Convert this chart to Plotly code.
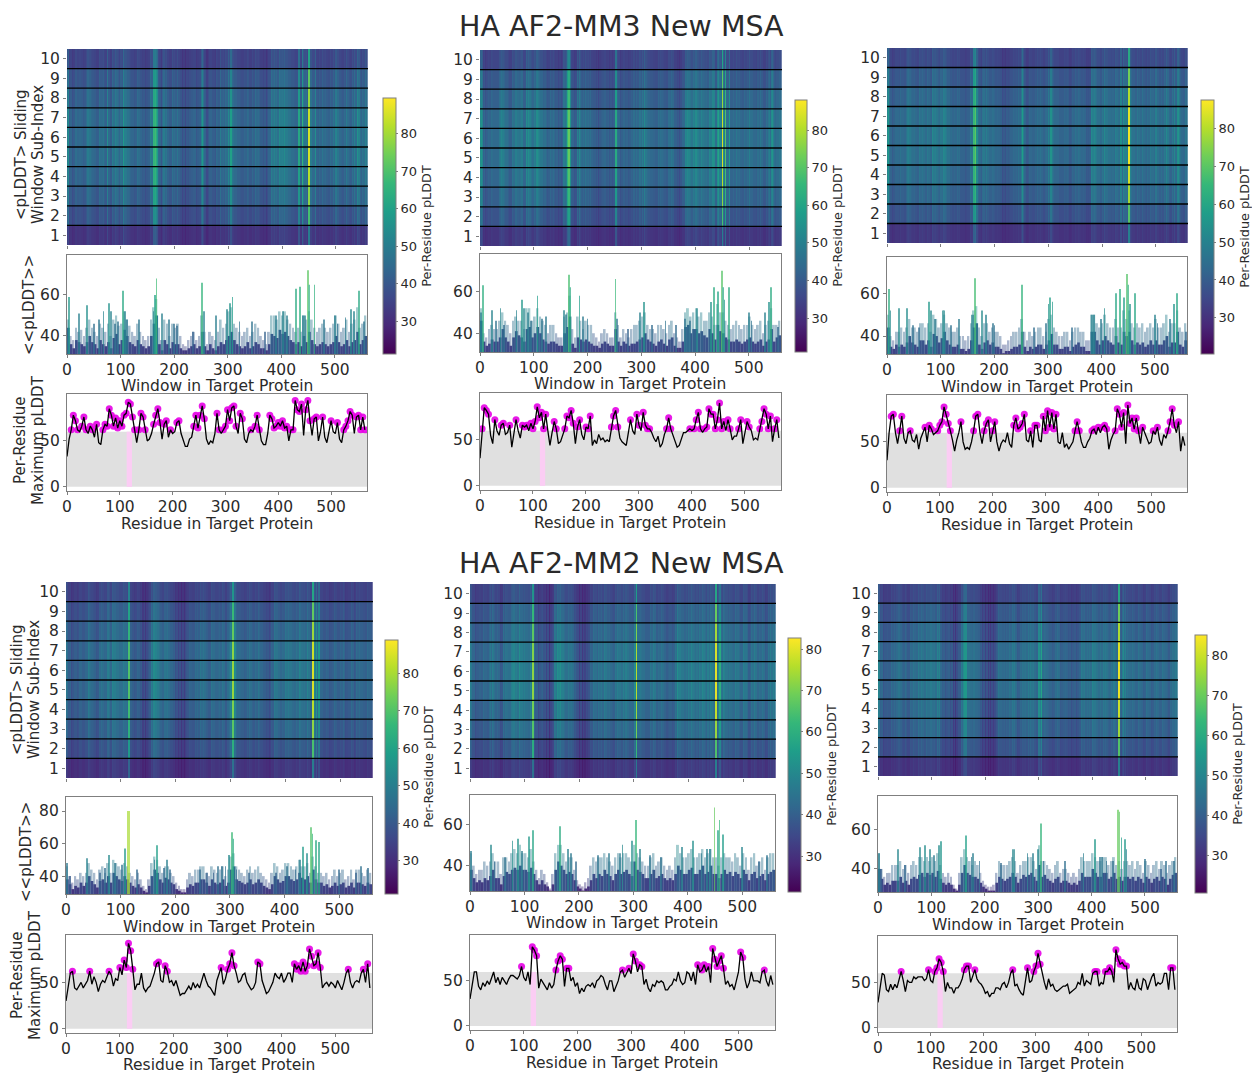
import plotly.graph_objects as go

W, H = 1252, 1074
TITLES = ["HA AF2-MM3 New MSA", "HA AF2-MM2 New MSA"]
TICKS = [0, 100, 200, 300, 400, 500]
SUB_INDEX = [1, 2, 3, 4, 5, 6, 7, 8, 9, 10]
THRESHOLD = 60
FOCUS_RESIDUE = 118

# Per-residue maximum pLDDT, read every 4th residue (0, 4, ... 564)
LINE_A = [33,52,62,78,72,62,60,66,76,62,58,66,62,54,68,48,46,62,68,66,85,78,66,75,64,
72,66,78,80,92,90,76,62,48,62,80,76,62,50,52,58,68,78,85,70,52,68,72,54,62,
58,60,70,72,58,50,44,44,52,54,66,78,64,78,88,74,52,46,50,48,58,80,62,58,62,
66,84,72,86,88,66,58,80,74,52,48,58,62,60,66,78,62,50,46,46,58,78,74,64,66,
70,66,72,64,66,50,62,62,94,84,82,90,56,84,94,72,56,74,76,50,60,76,54,48,60,
72,60,58,70,52,48,62,66,72,82,78,58,76,78,62,76,62]
LINE_B = [30,62,85,82,78,55,46,72,60,55,66,68,56,58,66,42,56,72,60,52,66,64,66,60,68,
62,70,86,74,80,62,78,60,44,58,70,62,46,48,54,62,76,74,82,68,46,64,72,56,50,
64,62,76,44,50,46,56,50,52,48,50,48,64,76,82,64,52,48,46,44,58,72,60,56,78,
66,60,80,66,62,62,58,52,48,54,42,46,56,62,74,62,56,48,42,44,52,58,58,60,62,
60,62,72,80,62,58,62,64,84,78,78,62,72,90,62,70,60,72,62,50,54,54,62,72,46,
58,70,64,60,50,52,50,62,70,84,78,62,76,48,62,72,52]
LINE_C = [30,60,78,80,60,48,62,78,54,48,60,62,52,50,58,42,54,60,66,50,68,64,58,60,62,
68,72,88,80,70,62,52,40,52,60,72,50,42,44,42,50,62,78,80,60,48,62,70,74,50,
62,72,50,40,48,52,50,60,48,44,68,76,64,66,70,80,52,50,62,44,68,68,52,50,78,
62,84,66,82,64,80,50,48,60,44,48,42,46,50,62,72,62,50,44,44,50,54,62,64,58,
66,60,66,68,64,42,52,58,62,86,80,66,82,48,90,70,76,64,76,62,48,66,60,52,48,
50,62,58,66,52,46,58,54,62,72,86,68,60,72,40,56,46]
LINE_D = [30,44,60,62,44,42,46,50,44,48,52,62,48,56,50,40,48,52,50,56,62,58,46,54,52,
66,58,74,66,92,84,64,42,48,48,60,44,40,44,46,52,60,70,72,52,50,68,62,50,52,
46,52,44,36,38,38,42,46,42,50,44,48,44,52,60,52,46,44,40,36,52,60,66,48,54,
64,70,82,68,60,50,52,58,60,50,46,42,44,50,72,70,52,44,38,40,46,50,60,56,54,
60,50,54,60,60,50,70,64,68,62,72,62,68,86,78,68,70,82,66,44,48,50,46,50,48,
44,52,46,42,50,60,64,50,44,50,52,50,60,64,50,70,44]
LINE_E = [30,46,60,60,44,40,48,44,50,46,52,60,48,54,46,54,50,46,52,56,56,54,52,56,66,
54,50,60,46,88,84,78,42,52,48,44,40,48,42,46,62,72,78,74,44,64,64,50,54,44,
48,36,42,38,44,46,44,48,42,50,52,56,54,46,40,50,50,38,44,50,60,62,54,60,64,
58,80,72,60,68,66,46,52,42,38,46,44,50,48,50,48,40,40,44,46,52,50,60,50,46,
48,60,58,50,60,46,68,60,62,68,60,66,48,86,74,66,72,78,64,46,50,44,46,40,50,
60,82,76,52,42,48,60,50,50,50,48,60,62,50,44,56,46]
LINE_F = [28,46,60,58,42,40,48,42,48,44,52,62,52,40,52,50,50,56,54,56,56,56,52,54,64,
52,50,62,66,76,72,62,40,50,44,44,38,44,44,48,54,64,68,68,50,56,64,54,50,48,
44,38,40,34,38,38,44,44,42,48,50,44,50,60,64,46,48,42,38,36,50,66,50,52,62,
68,82,70,60,50,42,54,46,48,42,40,42,44,46,46,48,38,40,42,44,50,48,60,46,52,
50,48,60,62,62,46,50,48,62,62,66,62,50,86,76,70,72,68,68,42,50,44,42,54,44,
42,54,52,42,50,56,60,46,50,48,50,60,60,42,66,66,42]

# Dense level of the window bars, read every 5th window (0, 5, ... 555)
BAR_A = [44,36,34,38,37,36,35,37,40,37,36,34,38,36,35,37,34,39,41,36,38,43,40,37,36,35,38,36,35,34,
35,40,46,50,36,33,38,36,34,37,36,36,34,33,33,34,35,36,34,35,42,35,33,36,34,33,35,37,36,38,
40,42,38,36,35,34,35,37,34,35,37,36,34,34,33,36,41,40,39,43,41,42,40,38,37,36,37,35,40,37,
42,38,36,35,36,37,36,35,36,37,40,37,35,36,38,35,37,38,42,36,38,40]
BAR_B = [46,36,34,35,37,36,36,38,42,38,36,34,38,41,39,38,36,42,43,38,40,43,40,37,36,35,36,36,35,34,
34,40,43,48,35,33,38,37,36,37,36,35,34,34,33,35,36,35,34,34,42,36,34,36,35,34,35,35,36,37,
38,40,37,36,35,34,36,37,35,34,37,38,34,33,33,36,43,44,40,42,42,40,41,39,38,42,40,37,44,41,
40,38,37,36,36,37,36,35,36,37,38,36,35,36,37,34,36,37,42,36,38,39]
BAR_C = [44,35,34,36,35,36,35,37,40,37,36,35,38,38,36,38,35,41,40,37,39,42,38,36,35,35,36,34,34,33,
34,38,44,46,36,34,37,38,36,37,35,35,34,32,33,33,34,35,35,36,42,35,33,35,34,35,36,36,34,36,
38,41,36,36,34,34,35,35,33,35,36,37,35,35,33,33,42,42,38,36,38,40,38,37,36,40,37,36,42,40,
42,38,36,37,36,37,35,36,38,36,38,36,36,38,40,35,37,37,42,36,35,38]
BAR_D = [38,35,32,34,33,36,34,36,40,37,35,33,37,38,36,40,36,42,40,38,37,40,38,36,34,33,35,33,31,30,
34,40,44,42,38,36,39,38,36,35,32,31,30,30,33,35,34,36,36,38,38,36,34,38,36,35,36,38,34,36,
44,46,38,37,36,35,36,38,35,36,38,36,34,33,32,35,40,38,36,37,40,40,38,37,38,42,39,38,40,36,
44,38,36,36,34,35,33,34,36,34,35,36,33,34,36,33,36,36,35,34,36,35]
BAR_E = [38,34,32,33,32,34,33,35,38,34,34,31,35,37,36,38,39,38,40,38,38,37,39,36,33,31,33,31,30,28,
31,38,42,40,38,36,37,36,33,30,29,28,29,30,33,36,34,36,35,38,36,35,33,36,38,36,37,38,36,35,
42,38,37,36,34,34,36,38,34,35,36,34,33,34,33,36,40,38,36,36,38,39,36,36,38,40,36,37,40,36,
36,34,36,38,36,37,35,37,36,34,38,36,33,36,37,34,35,36,33,36,37,38]
BAR_F = [40,35,32,33,32,34,34,34,36,33,34,32,35,36,35,37,38,36,38,37,38,36,39,35,33,32,33,32,30,29,
32,38,42,38,37,36,36,35,33,31,30,29,29,29,33,36,35,34,35,36,38,36,33,35,37,36,37,38,36,34,
42,36,37,35,34,33,35,36,33,34,34,33,32,33,32,34,38,36,36,36,40,38,36,36,38,38,35,36,38,35,
36,34,36,36,35,36,34,36,35,33,36,35,33,35,36,34,36,35,32,35,37,38]

# Pale upper envelope of the window bars, read every 5th window
ENV_A = [48,40,38,44,42,43,40,44,48,44,42,40,46,44,42,46,40,48,50,45,46,52,48,45,42,40,46,42,40,38,
40,48,54,58,44,38,48,46,40,46,44,46,40,36,35,38,40,42,38,40,50,42,36,42,40,38,42,48,44,46,
52,54,46,44,42,40,42,44,40,42,46,44,40,38,36,42,50,50,48,52,50,52,48,46,44,42,44,42,50,48,
52,48,44,42,44,46,44,42,44,46,50,46,42,44,48,42,46,48,54,44,46,50]
ENV_B = [52,40,38,42,44,42,42,46,50,46,44,40,46,48,46,46,42,52,52,46,48,52,48,46,44,40,44,44,40,38,
38,48,50,58,42,38,48,46,42,46,44,44,40,38,36,40,42,40,38,38,50,44,38,42,40,38,42,44,44,46,
48,50,44,42,42,40,44,44,42,40,44,46,40,38,36,42,50,52,48,50,52,48,50,46,46,50,48,44,54,50,
50,46,44,42,44,46,44,42,44,44,48,44,42,44,46,40,44,46,52,44,44,46]
ENV_C = [50,40,38,42,42,44,42,44,48,44,44,42,46,46,44,46,42,50,48,44,46,50,46,44,42,42,44,40,40,38,
40,46,52,54,44,40,46,46,42,44,42,42,40,36,36,38,40,42,42,44,48,42,38,42,40,42,44,44,40,42,
48,50,44,42,40,40,42,42,38,42,44,44,42,42,38,38,50,50,46,44,46,50,46,44,44,48,44,44,52,48,
52,46,44,46,44,46,42,44,46,44,48,44,44,46,50,42,46,46,52,44,42,46]
ENV_D = [46,40,36,40,38,42,40,42,48,44,42,38,44,46,42,48,42,50,48,46,44,48,46,42,40,38,42,38,34,32,
38,48,52,50,46,42,46,46,42,40,36,34,32,32,38,42,40,44,44,46,46,42,40,46,44,42,44,46,40,44,
52,54,46,44,42,40,44,46,42,44,46,42,40,38,36,42,48,46,42,44,48,48,46,44,46,50,46,46,48,42,
52,46,42,42,40,42,38,40,44,40,42,44,38,40,44,38,44,44,42,40,44,42]
ENV_E = [46,40,36,38,38,42,40,42,46,42,42,36,44,44,42,46,48,46,50,46,46,44,48,42,38,34,38,36,32,29,
36,46,50,50,46,42,44,44,38,33,31,30,32,34,40,44,42,44,44,46,44,42,40,44,46,44,46,46,44,42,
50,46,44,42,40,40,44,46,40,42,44,40,38,40,38,44,50,46,44,44,46,48,44,44,46,48,44,46,48,44,
44,40,44,46,44,44,42,46,44,40,46,44,38,44,46,40,42,44,38,44,46,46]
ENV_F = [48,40,36,38,38,42,42,42,44,40,42,38,42,44,42,46,46,44,46,44,46,44,48,42,38,36,38,36,32,30,
38,46,50,46,44,42,44,42,38,34,32,31,31,32,38,44,42,42,42,44,46,44,38,42,44,44,46,46,44,40,
52,44,44,42,40,38,42,44,38,40,40,38,36,38,36,40,46,44,44,44,48,46,44,44,46,46,42,44,46,42,
44,40,44,44,42,44,40,44,42,38,44,42,38,42,44,40,44,42,38,42,44,46]

# Narrow peaks rising above the dense level: window numbers and heights
SPIKE_X_A = [3,4,22,38,50,60,68,78,82,90,95,105,108,112,135,163,165,167,178,190,200,205,235,252,255,278,298,305,309,322,345,370,390,403,410,428,435,441,445,450,452,462,480,500,505,520,530,535,545,555]
SPIKE_Y_A = [59,57,51,55,46,48,52,56,52,46,47,62,52,48,48,52,60,68,51,48,46,45,42,66,52,50,53,56,59,47,47,42,50,52,50,63,64,50,50,72,65,65,48,50,46,49,53,52,62,47]
SPIKE_X_B = [2,5,22,30,38,45,68,78,82,90,95,107,115,122,157,160,165,167,185,192,200,252,255,275,298,305,320,345,365,382,390,403,430,435,442,450,452,455,463,500,505,530,537,542,555]
SPIKE_Y_B = [50,63,51,46,52,44,51,56,52,50,46,58,47,48,51,49,68,62,58,48,47,66,47,42,50,55,44,46,44,47,46,52,55,62,60,70,62,56,62,50,46,50,55,62,43]
SPIKE_X_C = [3,5,22,38,48,60,78,82,90,105,107,120,135,158,163,165,178,185,198,200,252,275,297,303,305,309,345,382,386,400,406,428,435,443,448,450,453,463,500,505,528,535,542,558]
SPIKE_Y_C = [62,52,53,53,45,44,56,52,48,52,52,45,48,50,50,67,52,50,46,45,64,44,46,55,58,56,44,50,50,48,53,60,62,58,69,64,55,60,50,46,48,55,60,42]
SPIKE_X_D = [2,8,38,62,72,78,90,103,108,114,115,130,162,166,180,185,190,245,258,270,278,285,292,298,303,305,312,335,385,405,420,428,434,441,449,451,457,463,500,530,540,553]
SPIKE_Y_D = [48,40,51,42,45,53,48,47,57,80,80,44,50,59,45,50,44,44,42,42,46,46,46,53,67,63,44,42,42,46,44,50,58,54,70,66,62,61,44,42,46,45]
SPIKE_X_E = [2,38,45,65,78,88,95,108,116,165,180,185,195,235,255,275,280,298,305,312,330,350,390,410,425,435,440,449,455,458,464,500,530,545]
SPIKE_Y_E = [47,50,42,44,52,53,47,54,57,59,48,46,42,45,46,46,50,52,62,48,45,44,49,52,46,48,48,68,57,62,55,49,42,45]
SPIKE_X_F = [2,5,38,50,78,88,98,105,115,118,165,175,178,190,230,252,255,280,290,300,305,310,350,385,407,415,420,428,440,449,451,456,462,465,500,530,540,555]
SPIKE_Y_F = [48,40,50,42,51,52,50,47,52,54,57,46,48,44,43,50,50,48,48,50,63,44,44,48,55,46,46,44,44,70,69,56,55,50,45,40,44,44]

# Bright stripes of the heat maps: window numbers and colour value in the brightest row
STRIPE_X_A = [3,75,105,162,165,252,305,432,438,450,462,543]
STRIPE_Y_A = [55,55,58,66,68,58,60,62,66,85,55,52]
STRIPE_X_B = [3,78,107,162,165,252,305,432,442,450,455,463,542]
STRIPE_Y_B = [56,50,52,66,72,62,52,55,60,84,70,58,52]
STRIPE_X_C = [3,162,165,252,305,435,450,542]
STRIPE_Y_C = [54,66,70,58,55,54,86,50]
STRIPE_X_D = [115,165,305,450,457,462]
STRIPE_Y_D = [70,52,78,85,58,58]
STRIPE_X_E = [115,165,305,450,458]
STRIPE_Y_E = [72,50,76,80,60]
STRIPE_X_F = [115,162,165,305,450,458]
STRIPE_Y_F = [50,55,55,58,83,52]

# Relative brightness of sub-index rows 1..10
ROW_LEVEL = [0.45, 0.75, 0.88, 0.95, 1.0, 1.0, 0.98, 0.9, 0.8, 0.62]

LINES = [LINE_A, LINE_B, LINE_C, LINE_D, LINE_E, LINE_F]
BARS = [BAR_A, BAR_B, BAR_C, BAR_D, BAR_E, BAR_F]
ENVS = [ENV_A, ENV_B, ENV_C, ENV_D, ENV_E, ENV_F]
SPIKES = [(SPIKE_X_A, SPIKE_Y_A), (SPIKE_X_B, SPIKE_Y_B), (SPIKE_X_C, SPIKE_Y_C),
          (SPIKE_X_D, SPIKE_Y_D), (SPIKE_X_E, SPIKE_Y_E), (SPIKE_X_F, SPIKE_Y_F)]
STRIPES = [(STRIPE_X_A, STRIPE_Y_A), (STRIPE_X_B, STRIPE_Y_B), (STRIPE_X_C, STRIPE_Y_C),
           (STRIPE_X_D, STRIPE_Y_D), (STRIPE_X_E, STRIPE_Y_E), (STRIPE_X_F, STRIPE_Y_F)]

# Layout: pixel boxes (x0, x1, y0, y1)
PANELS = [
 dict(heat=(67,368,49,245), bar=(67,367,255,354), line=(67,367,394,491), cb=(383,396,98,354),
      bar_r=(31.2,79.5), line_r=(-4.5,101), c=(21.2,89.6), tx=217, t1=386, t2=524),
 dict(heat=(480,782,50,246), bar=(480,781,254,352), line=(480,781,393,490), cb=(795,807,100,352),
      bar_r=(31,78), line_r=(-4.5,101), c=(21,88), tx=630, t1=384, t2=523),
 dict(heat=(887,1188,48,243), bar=(887,1187,257,354), line=(887,1187,395,492), cb=(1201,1214,100,354),
      bar_r=(31.6,77), line_r=(-4.5,101), c=(20.5,87.4), tx=1037, t1=387, t2=525),
 dict(heat=(66,373,582,778), bar=(66,372,797,894), line=(66,372,935,1033), cb=(385,398,640,894),
      bar_r=(29,88.6), line_r=(-4.5,101), c=(21.2,88.8), tx=219, t1=927, t2=1065),
 dict(heat=(470,776,584,778), bar=(470,775,795,891), line=(470,775,935,1030), cb=(788,801,638,892),
      bar_r=(27.8,74), line_r=(-4.5,101), c=(21.3,82.7), tx=622, t1=923, t2=1063),
 dict(heat=(878,1178,584,776), bar=(878,1177,796,892), line=(878,1177,936,1032), cb=(1195,1207,635,893),
      bar_r=(28.3,77), line_r=(-4.5,101), c=(20.7,85), tx=1028, t1=925, t2=1064),
]

FONT = "DejaVu Sans"
INK = "#2a2a2a"
FRAME = "#7f7f7f"
TICK_SIZE = 15.5

fig = go.Figure()
layout = {}
ann = []
shapes = []
axis_n = 0


def dom_x(b):
    return [b[0] / W, b[1] / W]


def dom_y(b):
    return [1 - b[3] / H, 1 - b[2] / H]


def text(x, y, s, size=15.5, angle=0):
    ann.append(dict(x=x / W, y=1 - y / H, xref="paper", yref="paper", text=s, showarrow=False,
                    textangle=angle, font=dict(size=size, family=FONT, color=INK),
                    xanchor="center", yanchor="middle"))


def axes(box, xr, yr, xlabels=True, frame=True, yticks=None):
    global axis_n
    axis_n += 1
    n = "" if axis_n == 1 else str(axis_n)
    layout["xaxis" + n] = dict(domain=dom_x(box), range=list(xr), anchor="y" + n, tickvals=TICKS,
                               showticklabels=xlabels, ticks="outside", ticklen=3, tickcolor=FRAME,
                               showgrid=False, zeroline=False, showline=frame, mirror=frame,
                               linecolor=FRAME, linewidth=1.2, ticklabelstandoff=-2,
                               tickfont=dict(size=TICK_SIZE, family=FONT, color=INK))
    layout["yaxis" + n] = dict(domain=dom_y(box), range=list(yr), anchor="x" + n, tickvals=yticks,
                               ticks="outside", ticklen=3, tickcolor=FRAME,
                               showgrid=False, zeroline=False, showline=frame, mirror=frame,
                               linecolor=FRAME, linewidth=1.2,
                               tickfont=dict(size=TICK_SIZE, family=FONT, color=INK))
    return "x" + n, "y" + n


for i, p in enumerate(PANELS):
    ca = "coloraxis" + ("" if i == 0 else str(i + 1))
    cb = p["cb"]
    layout[ca] = dict(
        colorscale="Viridis", cmin=p["c"][0], cmax=p["c"][1],
        colorbar=dict(x=cb[0] / W, xanchor="left", xpad=0, thickness=cb[1] - cb[0], thicknessmode="pixels",
                      len=(cb[3] - cb[2]) / H, lenmode="fraction", y=1 - cb[3] / H, yanchor="bottom", ypad=0,
                      tickvals=[30, 40, 50, 60, 70, 80], ticks="outside", ticklen=2, tickcolor=FRAME,
                      tickfont=dict(size=13, family=FONT, color=INK), outlinecolor=FRAME, outlinewidth=1,
                      title=dict(text="Per-Residue pLDDT", side="right", font=dict(size=12.8, family=FONT, color=INK))))

    mass, env, (sx, sy), (hx, hy) = BARS[i], ENVS[i], SPIKES[i], STRIPES[i]

    # Heat map cells are estimated: the bar levels per window, lifted by peaks and stripes,
    # and dimmed per sub-index row by ROW_LEVEL
    profile = []
    for w in range(560):
        j = min(w // 5, len(mass) - 1)
        profile.append(env[j] + 2 if w % 5 < 2 else mass[j] + 8)
    for a, b in zip(sx, sy):
        profile[a] = max(profile[a], (profile[a] + b) / 2)
    for a, b in zip(hx, hy):
        for w in (a - 1, a, a + 1):
            if 0 <= w < 560:
                profile[w] = max(profile[w], b)
    z = [[p["c"][0] + (v - p["c"][0]) * lv for v in profile] for lv in ROW_LEVEL]
    xa, ya = axes(p["heat"], (0, 560), (0.5, 10.5), xlabels=False, frame=False, yticks=SUB_INDEX)
    fig.add_trace(go.Heatmap(z=z, x=list(range(560)), y=SUB_INDEX, coloraxis=ca, xaxis=xa, yaxis=ya, zsmooth=False))
    for r in SUB_INDEX[:-1]:
        shapes.append(dict(type="line", xref=xa, yref=ya, x0=0, x1=560, y0=r + 0.5, y1=r + 0.5,
                           line=dict(color="black", width=1.3)))

    # Window bars
    bx = [j * 5 + 2.5 for j in range(len(mass))]
    ex = [j * 5 + 1.8 for j in range(len(env))]
    top = [60, 40] if i != 3 else [80, 60, 40]
    xa, ya = axes(p["bar"], (0, 560), p["bar_r"], yticks=top)
    fig.add_trace(go.Bar(x=ex, y=env, width=3.6, marker=dict(color=env, coloraxis=ca, line_width=0), opacity=0.42,
                         xaxis=xa, yaxis=ya, showlegend=False))
    fig.add_trace(go.Bar(x=bx, y=mass, width=5, marker=dict(color=mass, coloraxis=ca, line_width=0),
                         xaxis=xa, yaxis=ya, showlegend=False))
    fig.add_trace(go.Bar(x=sx, y=sy, width=1.6, marker=dict(color=sy, coloraxis=ca, line_width=0), opacity=0.7,
                         xaxis=xa, yaxis=ya, showlegend=False))

    # Per-residue line
    res = [j * 4 for j in range(len(LINES[i]))]
    xa, ya = axes(p["line"], (0, 568), p["line_r"], yticks=[0, 50])
    fig.add_trace(go.Bar(x=[284], y=[THRESHOLD], width=[568], marker=dict(color="#e0e0e0", line_width=0),
                         xaxis=xa, yaxis=ya, showlegend=False))
    fig.add_trace(go.Bar(x=[FOCUS_RESIDUE], y=[THRESHOLD], width=[10], marker=dict(color="#fbcdf4", line_width=0),
                         xaxis=xa, yaxis=ya, showlegend=False))
    hi = [(a, b) for a, b in zip(res, LINES[i]) if b > THRESHOLD]
    fig.add_trace(go.Scatter(x=[a for a, _ in hi], y=[b for _, b in hi], mode="markers",
                             marker=dict(color="#e600e6", size=7, opacity=0.9), xaxis=xa, yaxis=ya, showlegend=False))
    fig.add_trace(go.Scatter(x=res, y=LINES[i], mode="lines", line=dict(color="black", width=1.3),
                             xaxis=xa, yaxis=ya, showlegend=False))

    text(p["tx"], p["t1"], "Window in Target Protein")
    text(p["tx"], p["t2"], "Residue in Target Protein")

for xh, yh, xb, yb, xl, yl in [(21, 155, 29, 305, 20, 440), (17, 690, 26, 852, 17, 975)]:
    text(xh, yh, "&lt;pLDDT&gt; Sliding", size=15, angle=-90)
    text(xh + 17, yh, "Window Sub-Index", size=15, angle=-90)
    text(xb, yb, "&lt;&lt;pLDDT&gt;&gt;", size=15, angle=-90)
    text(xl, yl, "Per-Residue", size=15, angle=-90)
    text(xl + 18, yl, "Maximum pLDDT", size=15, angle=-90)

text(621, 26, TITLES[0], size=28.5)
text(621, 563, TITLES[1], size=28.5)

fig.update_layout(width=W, height=H, margin=dict(l=0, r=0, t=0, b=0, autoexpand=False), autosize=False,
                  paper_bgcolor="white", plot_bgcolor="white", showlegend=False, barmode="overlay",
                  annotations=ann, shapes=shapes, **layout)
fig.write_html("out.html", config={"displayModeBar": False}, post_script="document.body.style.margin='0';")
